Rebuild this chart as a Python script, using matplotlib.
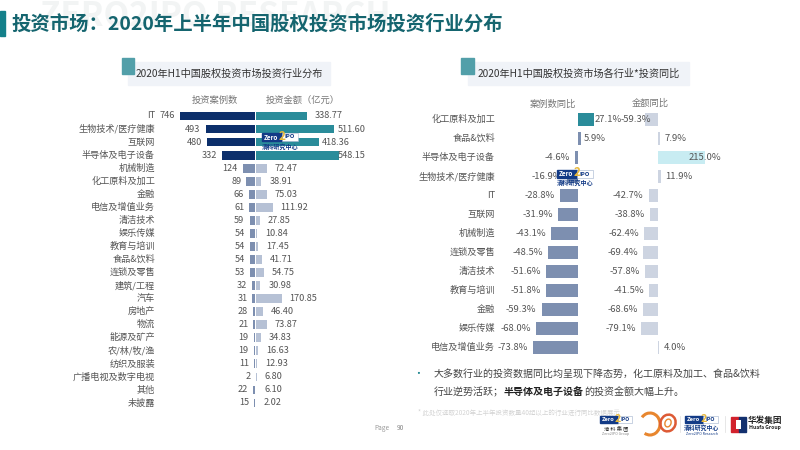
import matplotlib
matplotlib.use("Agg")
import matplotlib.pyplot as plt
from matplotlib.patches import Rectangle, Arc, Ellipse

plt.rcParams['font.family'] = ['Noto Sans CJK SC', 'DejaVu Sans']

W, H = 800, 450

# left chart
industries = ["IT", "生物技术/医疗健康", "互联网", "半导体及电子设备", "机械制造", "化工原料及加工",
              "金融", "电信及增值业务", "清洁技术", "娱乐传媒", "教育与培训", "食品&饮料",
              "连锁及零售", "建筑/工程", "汽车", "房地产", "物流", "能源及矿产", "农/林/牧/渔",
              "纺织及服装", "广播电视及数字电视", "其他", "未披露"]
case_counts = [746, 493, 480, 332, 124, 89, 66, 61, 59, 54, 54, 54, 53, 32, 31, 28, 21, 19, 19, 11, 2, 22, 15]
amounts = [338.77, 511.60, 418.36, 548.15, 72.47, 38.91, 75.03, 111.92, 27.85, 10.84, 17.45, 41.71,
           54.75, 30.98, 170.85, 46.40, 73.87, 34.83, 16.63, 12.93, 6.80, 6.10, 2.02]

# right chart
yoy_industries = ["化工原料及加工", "食品&饮料", "半导体及电子设备", "生物技术/医疗健康", "IT", "互联网",
                  "机械制造", "连锁及零售", "清洁技术", "教育与培训", "金融", "娱乐传媒", "电信及增值业务"]
case_yoy = [27.1, 5.9, -4.6, -16.9, -28.8, -31.9, -43.1, -48.5, -51.6, -51.8, -59.3, -68.0, -73.8]
amount_yoy = [-59.3, 7.9, 215.0, 11.9, -42.7, -38.8, -62.4, -69.4, -57.8, -41.5, -68.6, -79.1, 4.0]

TEAL = "#2a8c9a"
NAVY = "#0c2f6b"
CASE_BLUE = "#7d8fb0"
AMOUNT_BLUE = "#b6c1d5"
TEXT = "#555555"
LOGO_BLUE = "#123a86"


def pixel_layer(fig):
    # full picture axes in pixels, y measured from the top
    ax = fig.add_axes([0, 0, 1, 1])
    ax.set_xlim(0, W)
    ax.set_ylim(H, 0)
    ax.axis('off')
    ax.patch.set_alpha(0)
    return ax


def bar_axes(fig, x0, center, x1, px_per_unit, y0, y1, n):
    ax = fig.add_axes([x0 / W, 1 - y1 / H, (x1 - x0) / W, (y1 - y0) / H])
    ax.axis('off')
    ax.patch.set_alpha(0)
    ax.set_xlim((x0 - center) / px_per_unit, (x1 - center) / px_per_unit)
    ax.set_ylim(n - 0.5, -0.5)
    return ax


def value_label(ax, v, y, text, gap, size=6.6):
    # gap is in pixels, away from the bar end
    ha = 'left' if v >= 0 else 'right'
    sign = 1 if v >= 0 else -1
    ax.annotate(text, (v, y), xytext=(sign * gap * 0.72, 0), textcoords='offset points',
                ha=ha, va='center', fontsize=size, color=TEXT, annotation_clip=False)


def zero_logo(ax, x, y, w=36):
    # small Zero2IPO mark, x/y top left in pixels
    s = w / 36
    ax.add_patch(Rectangle((x, y), 20 * s, 8 * s, color=LOGO_BLUE, zorder=8))
    ax.add_patch(Rectangle((x + 20 * s, y), 16 * s, 8 * s, fc="white", ec="#9fb0cc", lw=0.4, zorder=8))
    ax.text(x + 9 * s, y + 4 * s, "Zero", color="white", fontsize=4.6 * s, style='italic',
            fontweight='bold', ha='center', va='center', zorder=9)
    ax.text(x + 28 * s, y + 4 * s, "IPO", color=LOGO_BLUE, fontsize=4.2 * s, fontweight='bold',
            ha='center', va='center', zorder=9)
    ax.text(x + 20 * s, y + 3 * s, "2", color="#e8b83a", fontsize=8.5 * s, fontweight='bold',
            ha='center', va='center', zorder=10)


fig = plt.figure(figsize=(W / 100, H / 100), dpi=100, facecolor="white")

# slide furniture underneath the bars
bg = pixel_layer(fig)
bg.text(215, 17, "ZERO2IPO RESEARCH", color="#f2f4f4", fontsize=24, fontweight='bold', ha='center', va='center')
bg.add_patch(Rectangle((0, 11), 5, 25, color="#14808a"))
bg.text(12, 24, "投资市场\uff1a2020年上半年中国股权投资市场投资行业分布", color="#15656f", fontsize=13.95,
        fontweight='bold', va='center')

# panel headings
bg.add_patch(Rectangle((128, 62), 202, 23, color="#f0f3f8"))
bg.add_patch(Rectangle((122, 58), 12, 16, color="#529fa9"))
bg.text(136, 74, "2020年H1中国股权投资市场投资行业分布", color="#333333", fontsize=7.3, va='center')
bg.add_patch(Rectangle((468, 62), 221, 23, color="#f0f3f8"))
bg.add_patch(Rectangle((461, 58), 13, 16, color="#529fa9"))
bg.text(478, 74, "2020年H1中国股权投资市场各行业*投资同比", color="#333333", fontsize=7.3, va='center')

bg.text(215, 100, "投资案例数", color="#777777", fontsize=6.7, ha='center', va='center')
bg.text(266, 100, "投资金额\uff08亿元\uff09", color="#777777", fontsize=6.7, va='center')
bg.text(553, 104, "案例数同比", color="#777777", fontsize=6.7, ha='center', va='center')
bg.text(650, 103, "金额同比", color="#777777", fontsize=6.7, ha='center', va='center')

# left chart, rows run from y=116 to y=403
row = (403 - 116) / 22
top, bottom = 116 - row / 2, 403 + row / 2
n = len(industries)
ax_case = bar_axes(fig, 100, 255.5, 255.5, 0.1012, top, bottom, n)
ax_amt = bar_axes(fig, 255.5, 255.5, 420, 0.1525, top, bottom, n)
for i in range(n):
    big = i < 4
    ax_case.barh(i, -case_counts[i], height=0.67, color=NAVY if big else CASE_BLUE)
    ax_amt.barh(i, amounts[i], height=0.67, color=TEAL if big else AMOUNT_BLUE)
    value_label(ax_case, -case_counts[i], i, str(case_counts[i]), 5)
    # the biggest amounts sit closer to their bars in the original
    gap = {1: 4.5, 2: 3, 3: -1}.get(i, 8)
    value_label(ax_amt, amounts[i], i, f"{amounts[i]:.2f}", gap)
    ax_case.annotate(industries[i], (-(255.5 - 155) / 0.1012, i), ha='right', va='center',
                     fontsize=6.6, color=TEXT, annotation_clip=False)

# right chart, rows run from y=119.3 to y=347.3
row2 = (347.3 - 119.3) / 12
top2, bottom2 = 119.3 - row2 / 2, 347.3 + row2 / 2
m = len(yoy_industries)
ax_cy = bar_axes(fig, 500, 577.7, 620, 0.61, top2, bottom2, m)
ax_ay = bar_axes(fig, 620, 658, 760, 0.2186, top2, bottom2, m)
for i in range(m):
    cy, ay = case_yoy[i], amount_yoy[i]
    ax_cy.barh(i, cy, height=0.67, color=TEAL if cy > 20 else CASE_BLUE)
    ax_ay.barh(i, ay, height=0.67, color="#c8ecf2" if ay > 100 else "#cdd4e1")
    value_label(ax_cy, cy, i, f"{cy:.1f}%", 0 if cy > 20 else 2.5 if cy > 0 else 5, size=6.8)
    # two labels run into their own bars in the original
    ay_gap = {0: -6, 2: -16}.get(i, 5)
    value_label(ax_ay, ay, i, f"{ay:.1f}%", ay_gap, size=6.8)
    ax_cy.annotate(yoy_industries[i], (-(577.7 - 495) / 0.61, i), ha='right', va='center',
                   fontsize=6.6, color=TEXT, annotation_clip=False)

# note under the right chart
bg.text(418, 374, "•", color="#14808a", fontsize=7, ha='center', va='center')
bg.text(434, 374, "大多数行业的投资数据同比均呈现下降态势\uff0c化工原料及加工、食品&饮料", color="#444444",
        fontsize=7.2, va='center')
part = bg.text(434, 392, "行业逆势活跃\uff1b", color="#444444", fontsize=7.2, va='center')
part = bg.annotate("半导体及电子设备", xy=(1, 0.5), xycoords=part, va='center', color="#222222",
                   fontsize=7.2, fontweight='bold')
bg.annotate("的投资金额大幅上升。", xy=(1, 0.5), xycoords=part, va='center', color="#444444", fontsize=7.2)
bg.text(418, 412.5, "* 此处仅选取2020年上半年投资数量40起以上的行业进行同比数据展示", color="#d4d4d4", fontsize=4.7, va='center')

bg.text(382, 428, "Page", color="#999999", fontsize=4.7, ha='center', va='center')
bg.text(400, 428, "90", color="#888888", fontsize=4.7, ha='center', va='center')

# logos sit on top of the bars
top_ax = pixel_layer(fig)
for lx, ly, text_y in [(262, 133, 147), (557, 170, 183)]:
    zero_logo(top_ax, lx, ly)
    top_ax.text(lx + 18, text_y, "清科研究中心", color=LOGO_BLUE, fontsize=4.4, fontweight='bold',
                ha='center', va='center', zorder=9)

# footer logos
zero_logo(top_ax, 600, 416, 32)
top_ax.text(616, 428, "清 科 集 团", color="#333333", fontsize=3.8, ha='center', va='center')
top_ax.text(616, 434, "Zero2IPO Group", color="#888888", fontsize=2.6, ha='center', va='center')
top_ax.add_patch(Arc((650, 424), 20, 22, theta1=-140, theta2=120, color="#e8862e", lw=2.2))
top_ax.add_patch(Ellipse((668, 423), 15, 17, angle=20, fc="none", ec="#dd5a35", lw=1.8))
top_ax.add_patch(Ellipse((668, 423), 6, 8, angle=20, fc="none", ec="#e8862e", lw=1))
top_ax.plot([680, 680], [416, 432], color="#dddddd", lw=0.5)
zero_logo(top_ax, 685, 416, 33)
top_ax.text(702, 428, "清科研究中心", color=LOGO_BLUE, fontsize=4.2, fontweight='bold', ha='center', va='center')
top_ax.text(702, 434, "Zero2IPO Research", color=LOGO_BLUE, fontsize=2.6, ha='center', va='center')
top_ax.plot([725, 725], [416, 432], color="#dddddd", lw=0.5)
top_ax.add_patch(Rectangle((731, 417), 8, 15, color="#d2222d"))
top_ax.add_patch(Rectangle((739, 417), 7, 15, color="#12306e"))
top_ax.add_patch(Rectangle((736, 420), 5, 9, fc="white", ec="none"))
top_ax.text(765, 420, "华发集团", color="#222222", fontsize=6.2, fontweight='bold', ha='center', va='center')
top_ax.text(765, 428, "Huafa Group", color="#222222", fontsize=3.7, fontweight='bold', ha='center', va='center')

fig.savefig("out.png", dpi=100)
